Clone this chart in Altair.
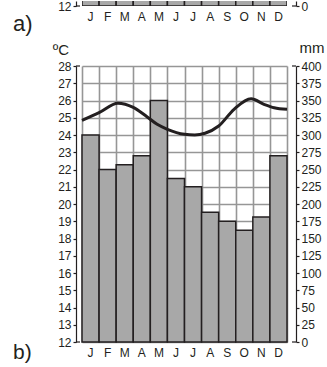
import altair as alt
import pandas as pd

# ---- data ----
months = ["J", "F", "M", "A", "M", "J", "J", "A", "S", "O", "N", "D"]
month_id = list(range(12))
precip_mm = [300, 250, 257, 270, 350, 237, 225, 188, 175, 162, 181, 270]
temp_pos = [0.0, 1.0, 2.1, 3.0, 3.8, 4.4, 5.0, 6.0, 6.6, 7.2, 8.0, 8.9, 9.9, 10.65, 11.25, 12.0]
temp_c = [24.85, 25.3, 25.84, 25.6, 25.06, 24.62, 24.33, 24.04, 24.0, 24.1, 24.52, 25.49, 26.1, 25.78, 25.58, 25.49]
temp_ticks = list(range(12, 29))
mm_ticks = list(range(0, 401, 25))

INK = "#231f20"
GRID = "#969696"
BARFILL = "#a8a8a8"
FONT = "Liberation Sans"
W = 205

bars_df = pd.DataFrame({"id": month_id, "m": months, "mm": precip_mm})
temp_df = pd.DataFrame({"pos": temp_pos, "t": temp_c})
label_expr = "[" + ",".join("'%s'" % m for m in months) + "][datum.value]"


def month_x():
    return alt.X(
        "id:O",
        scale=alt.Scale(paddingInner=0, paddingOuter=0),
        axis=alt.Axis(orient="bottom", title=None, labelExpr=label_expr, ticks=False,
                      domain=False, labelAngle=0, labelPadding=5, labelFontSize=12,
                      labelColor=INK, labelFont=FONT),
    )


def side_axis(orient, values, offset, grid=False):
    kw = dict(orient=orient, values=values, offset=offset, tickSize=3, labelPadding=2,
              title=None, grid=grid, domainColor=INK, tickColor=INK, labelColor=INK,
              labelFontSize=12, labelFont=FONT, labelOverlap=False, format="d",
              domainWidth=1.2, tickWidth=1.2)
    if grid:
        kw.update(gridColor=GRID, gridWidth=1.6, gridOpacity=1)
    return alt.Axis(**kw)


# ---------------- chart a (only its bottom strip is visible) ----------------
a_scale = alt.Scale(domain=[12, 12.3], nice=False, zero=False)
a_axis = side_axis("left", [12], 6)
a_bars = alt.Chart(bars_df).mark_bar(fill=BARFILL, stroke=INK, strokeWidth=1.5, clip=True).encode(
    x=month_x(),
    y=alt.YDatum(12, type="quantitative", scale=a_scale, axis=a_axis),
    y2=alt.value(-10),
)
a_lbr = alt.Chart(pd.DataFrame({"t": [12]})).mark_rule(color=INK, strokeWidth=1.2).encode(
    y=alt.Y("t:Q", scale=a_scale, axis=a_axis), x=alt.value(-6), x2=alt.value(-2))
a_lbl = alt.Chart(pd.DataFrame({"s": ["a)"]})).mark_text(
    align="left", baseline="middle", fontSize=22, font=FONT, color=INK).encode(
    text="s:N", x=alt.value(-69), y=alt.value(23))
a_left = alt.layer(a_bars, a_lbr, a_lbl)
a_right = alt.Chart(pd.DataFrame({"v": [0]})).mark_rule(color=INK, strokeWidth=1.2).encode(
    y=alt.Y("v:Q", scale=alt.Scale(domain=[0, 5], nice=False),
            axis=side_axis("right", [0], 9)),
    x=alt.value(W + 5), x2=alt.value(W + 9))
chart_a = alt.layer(a_left, a_right).resolve_scale(y="independent").properties(width=W, height=5)

# ---------------- chart b ----------------
b_bars = alt.Chart(bars_df).mark_bar(fill=BARFILL, stroke=INK, strokeWidth=1.5).encode(
    x=month_x(),
    y=alt.Y("mm:Q", scale=alt.Scale(domain=[0, 400], nice=False),
            axis=side_axis("right", mm_ticks, 9)),
)

t_scale = alt.Scale(domain=[12, 28], nice=False, zero=False)
t_axis = side_axis("left", temp_ticks, 6, grid=True)
t_line = alt.Chart(temp_df).mark_line(color=INK, strokeWidth=3, interpolate="monotone").encode(
    x=alt.X("pos:Q", scale=alt.Scale(domain=[0, 12], nice=False, zero=False),
            axis=alt.Axis(orient="bottom", values=list(range(13)), grid=True, gridColor=GRID,
                          gridWidth=1.6, gridOpacity=1, labels=False, ticks=False, domain=False,
                          title=None)),
    y=alt.Y("t:Q", scale=t_scale, axis=t_axis),
)
brk_df = pd.DataFrame({"t": [12, 28]})
lbr = alt.Chart(brk_df).mark_rule(color=INK, strokeWidth=1.2).encode(
    y=alt.Y("t:Q", scale=t_scale, axis=t_axis), x=alt.value(-6), x2=alt.value(-2))
rbr = alt.Chart(brk_df).mark_rule(color=INK, strokeWidth=1.2).encode(
    y=alt.Y("t:Q", scale=t_scale, axis=t_axis), x=alt.value(W + 5), x2=alt.value(W + 9))
unit_c = alt.Chart(pd.DataFrame({"s": ["ºC"]})).mark_text(
    align="center", baseline="alphabetic", fontSize=15, font=FONT, color=INK).encode(
    text="s:N", x=alt.value(-21), y=alt.value(-11))
unit_mm = alt.Chart(pd.DataFrame({"s": ["mm"]})).mark_text(
    align="center", baseline="alphabetic", fontSize=15, font=FONT, color=INK).encode(
    text="s:N", x=alt.value(W + 25), y=alt.value(-13))
b_lbl = alt.Chart(pd.DataFrame({"s": ["b)"]})).mark_text(
    align="left", baseline="middle", fontSize=21, font=FONT, color=INK).encode(
    text="s:N", x=alt.value(-69), y=alt.value(287))

b_temp = alt.layer(t_line, lbr, rbr, unit_c, unit_mm, b_lbl)
chart_b = alt.layer(b_bars, b_temp).resolve_scale(y="independent", x="independent").properties(
    width=W, height=276)

chart = alt.vconcat(chart_a, chart_b, spacing=60, bounds="flush").properties(
    padding={"left": 13, "top": 0, "right": 0, "bottom": 0}
).configure_view(stroke=None)

chart.save("out.html", embed_options={"renderer": "svg", "actions": False})
